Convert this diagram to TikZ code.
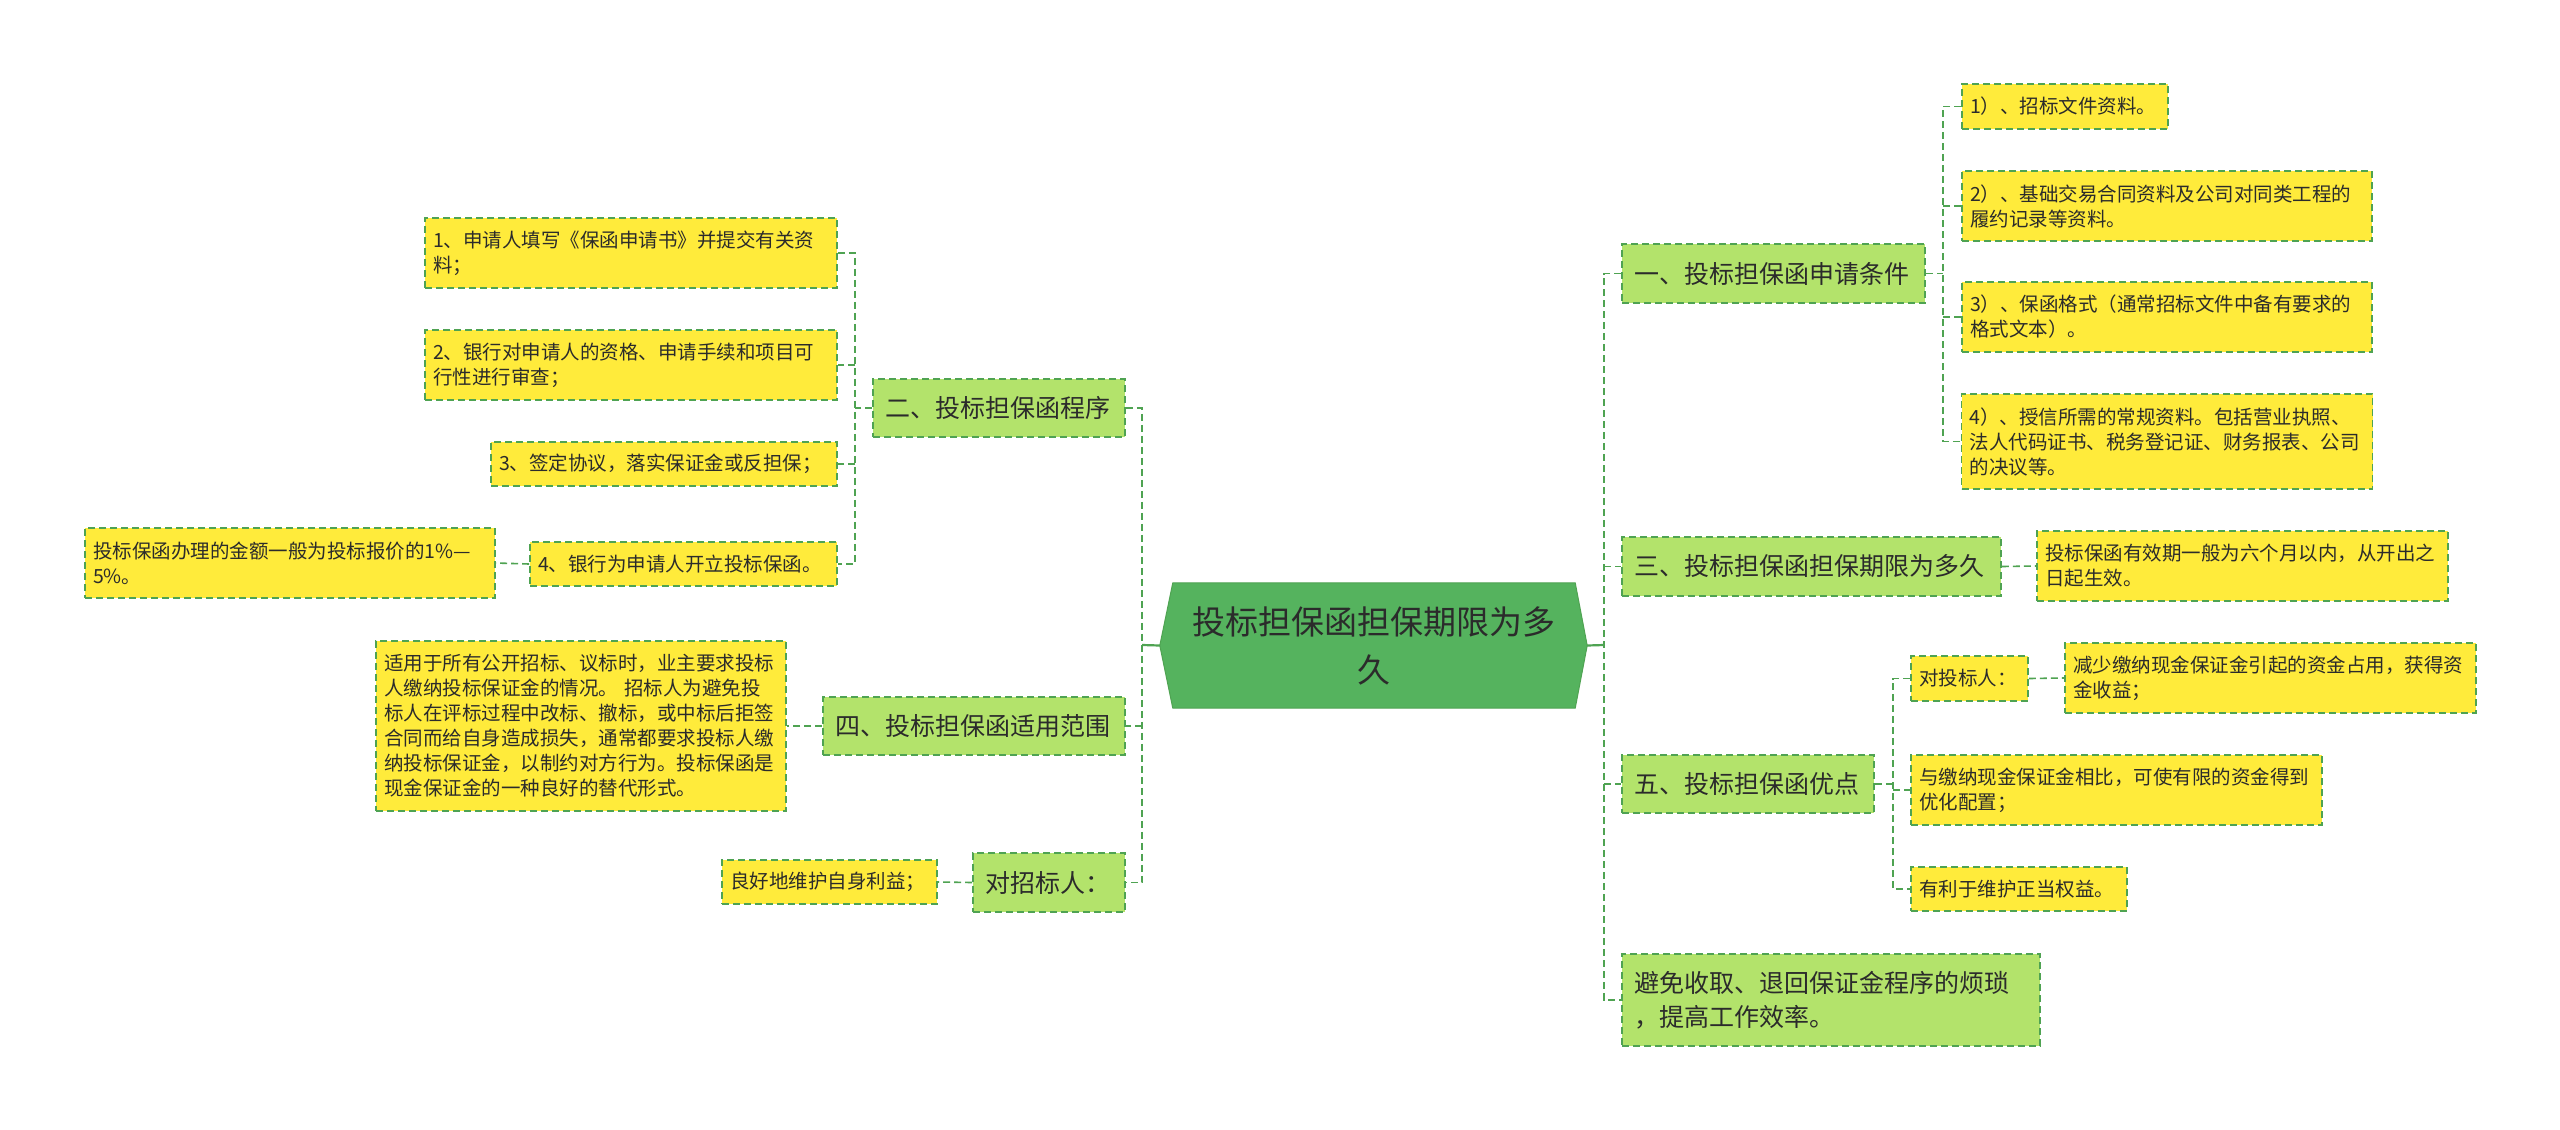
\documentclass[tikz,border=0pt]{standalone}
\usepackage{fontspec}
\setmainfont{Noto Sans CJK SC}
\usetikzlibrary{backgrounds}
\definecolor{lvlgreen}{HTML}{B3E36B}
\definecolor{ylw}{HTML}{FFEB3B}
\definecolor{lnk}{HTML}{4FA352}
\definecolor{rootfill}{HTML}{55B35E}
\definecolor{txt}{HTML}{2B2B2B}
\begin{document}
\begin{tikzpicture}[x=1pt,y=-1pt,
  dashbox/.style={draw=lnk, line width=1.6pt, dash pattern=on 7pt off 4pt, text=txt, align=left, inner ysep=0pt},
  lvlbox/.style={dashbox, fill=lvlgreen, inner xsep=12pt, font=\fontsize{25}{34}\selectfont},
  ybox/.style={dashbox, fill=ylw, inner xsep=8pt, font=\fontsize{19.5}{25}\selectfont},
  conn/.style={draw=lnk, line width=1.6pt, dash pattern=on 7pt off 4pt},
  solidconn/.style={draw=lnk, line width=2.2pt},
]
\useasboundingbox (0,0) rectangle (2560,1130);

% root
\node[text=txt, font=\fontsize{33}{48}\selectfont, align=center, text width=390pt,
      minimum width=402pt, minimum height=125pt, inner sep=0pt] (root) at (1374,645.5)
      {投标担保函担保期限为多\\久};
\begin{scope}[on background layer]
\fill[white] (0,0) rectangle (2560,1130);
\filldraw[fill=rootfill, draw=lnk, line width=1pt]
  (root.north west) -- (root.north east) -- ([xshift=12pt]root.east) -- (root.south east)
  -- (root.south west) -- ([xshift=-13pt]root.west) -- cycle;
\end{scope}

% left side
\node[lvlbox, text width=228pt, minimum height=58pt] (n2) at (999,408) {二、投标担保函程序};
\node[ybox, text width=396pt, minimum height=70pt] (L1) at (631,253) {1、申请人填写《保函申请书》并提交有关资\\料；};
\node[ybox, text width=396pt, minimum height=70pt] (L2) at (631,365) {2、银行对申请人的资格、申请手续和项目可\\行性进行审查；};
\node[ybox, text width=330pt, minimum height=44pt] (L3) at (664,464) {3、签定协议，落实保证金或反担保；};
\node[ybox, text width=291pt, minimum height=44pt] (L4) at (683.5,564) {4、银行为申请人开立投标保函。};
\node[ybox, text width=394pt, minimum height=70pt] (L4a) at (290,563) {投标保函办理的金额一般为投标报价的1\%—\\5\%。};
\node[lvlbox, text width=278pt, minimum height=58pt] (n4) at (974,726) {四、投标担保函适用范围};
\node[ybox, text width=394pt, minimum height=170pt] (L5) at (581,726)
  {适用于所有公开招标、议标时，业主要求投标\\人缴纳投标保证金的情况。 招标人为避免投\\标人在评标过程中改标、撤标，或中标后拒签\\合同而给自身造成损失，通常都要求投标人缴\\纳投标保证金，以制约对方行为。投标保函是\\现金保证金的一种良好的替代形式。};
\node[lvlbox, text width=128pt, minimum height=59pt] (z3) at (1049,882.5) {对招标人：};
\node[ybox, text width=199pt, minimum height=44pt] (L6) at (829.5,882) {良好地维护自身利益；};

% right side
\node[lvlbox, text width=279pt, minimum height=59pt] (n1) at (1773.5,273.5) {一、投标担保函申请条件};
\node[ybox, text width=190pt, minimum height=45pt] (R1) at (2065,106.5) {1）、招标文件资料。};
\node[ybox, text width=394pt, minimum height=70pt] (R2) at (2167,206) {2）、基础交易合同资料及公司对同类工程的\\履约记录等资料。};
\node[ybox, text width=394pt, minimum height=70pt] (R3) at (2167,317) {3）、保函格式（通常招标文件中备有要求的\\格式文本）。};
\node[ybox, text width=395pt, minimum height=95pt] (R4) at (2167,441.5) {4）、授信所需的常规资料。包括营业执照、\\法人代码证书、税务登记证、财务报表、公司\\的决议等。};
\node[lvlbox, text width=355pt, minimum height=59pt] (n3) at (1811.5,566.5) {三、投标担保函担保期限为多久};
\node[ybox, text width=395pt, minimum height=70pt] (R5) at (2242.5,566) {投标保函有效期一般为六个月以内，从开出之\\日起生效。};
\node[lvlbox, text width=228pt, minimum height=58pt] (n5) at (1748,784) {五、投标担保函优点};
\node[ybox, text width=101pt, minimum height=45pt] (T) at (1969.5,678.5) {对投标人：};
\node[ybox, text width=395pt, minimum height=70pt] (R6) at (2270.5,678) {减少缴纳现金保证金引起的资金占用，获得资\\金收益；};
\node[ybox, text width=395pt, minimum height=70pt] (R7) at (2116.5,790) {与缴纳现金保证金相比，可使有限的资金得到\\优化配置；};
\node[ybox, text width=200pt, minimum height=44pt] (R8) at (2019,889) {有利于维护正当权益。};
\node[lvlbox, text width=394pt, minimum height=92pt] (n6) at (1831,1000) {避免收取、退回保证金程序的烦琐\\，提高工作效率。};

% trunk coordinates
\coordinate (lt) at (1142,645);
\coordinate (rt) at (1604,645);
\coordinate (t2) at (855,408);
\coordinate (t1) at (1943,273);
\coordinate (t5) at (1893,784);

% connectors left
\draw[solidconn] ([xshift=-13pt]root.west) -- (lt);
\draw[conn] (n2.east) -- (lt |- n2.east) -- (lt |- z3.east) -- (z3.east);
\draw[conn] (lt |- n4.east) -- (n4.east);
\draw[conn] (n2.west) -- (t2 |- n2.west);
\draw[conn] (L1.east) -- (t2 |- L1.east) -- (t2 |- L4.east) -- (L4.east);
\draw[conn] (t2 |- L2.east) -- (L2.east);
\draw[conn] (t2 |- L3.east) -- (L3.east);
\draw[conn] (L4.west) -- (L4a.east);
\draw[conn] (n4.west) -- (L5.east);
\draw[conn] (z3.west) -- (L6.east);

% connectors right
\draw[solidconn] ([xshift=12pt]root.east) -- (rt);
\draw[conn] (n1.west) -- (rt |- n1.west) -- (rt |- n6.west) -- (n6.west);
\draw[conn] (rt |- n3.west) -- (n3.west);
\draw[conn] (rt |- n5.west) -- (n5.west);
\draw[conn] (n1.east) -- (t1 |- n1.east);
\draw[conn] (R1.west) -- (t1 |- R1.west) -- (t1 |- R4.west) -- (R4.west);
\draw[conn] (t1 |- R2.west) -- (R2.west);
\draw[conn] (t1 |- R3.west) -- (R3.west);
\draw[conn] (n3.east) -- (R5.west);
\draw[conn] (n5.east) -- (t5 |- n5.east);
\draw[conn] (T.west) -- (t5 |- T.west) -- (t5 |- R8.west) -- (R8.west);
\draw[conn] (t5 |- R7.west) -- (R7.west);
\draw[conn] (T.east) -- (R6.west);
\end{tikzpicture}
\end{document}
